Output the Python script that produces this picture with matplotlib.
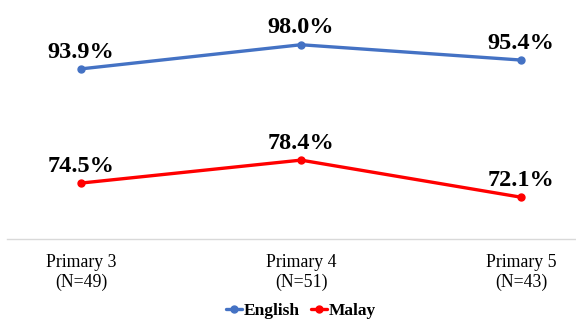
import matplotlib
matplotlib.use("Agg")
from matplotlib import pyplot as plt

grades = ["Primary 3\n(N=49)", "Primary 4\n(N=51)", "Primary 5\n(N=43)"]
english = [93.9, 98.0, 95.4]
malay = [74.5, 78.4, 72.1]

BLUE = "#4472C4"
RED = "#FF0000"

plt.rcParams["font.family"] = ["Liberation Serif", "DejaVu Serif"]

fig = plt.figure(figsize=(5.76, 3.2), dpi=100)
ax = fig.add_axes([7 / 576, 81 / 320, 569 / 576, 239 / 320])

x = range(len(grades))
for values, color, name in [(english, BLUE, "English"), (malay, RED, "Malay")]:
    ax.plot(x, values, color=color, linewidth=2.4, marker="o",
            markersize=5, label=name, solid_capstyle="round")
    for xi, v in zip(x, values):
        ax.annotate(f"{v:.1f}%", (xi, v), xytext=(0, 4.5), textcoords="offset points",
                    ha="center", va="bottom", fontsize=17.5, fontweight="bold")

ax.set_xlim(-74 / 220, 2 + 55 / 220)
ax.set_ylim(65, 105.6)
ax.set_xticks(list(x), grades, fontsize=12.8)
ax.tick_params(axis="x", length=0, pad=10.5)
ax.set_yticks([])

for side in ["top", "left", "right"]:
    ax.spines[side].set_visible(False)
ax.spines["bottom"].set_color("#D9D9D9")
ax.spines["bottom"].set_linewidth(1.0)

ax.legend(loc="center", bbox_to_anchor=(301 / 576, 9 / 320),
          bbox_transform=fig.transFigure, ncol=2, frameon=False,
          prop={"weight": "bold", "size": 12.5}, handlelength=0.9,
          handletextpad=0.1, columnspacing=0.7, borderpad=0)

fig.savefig("out.png", dpi=100)
